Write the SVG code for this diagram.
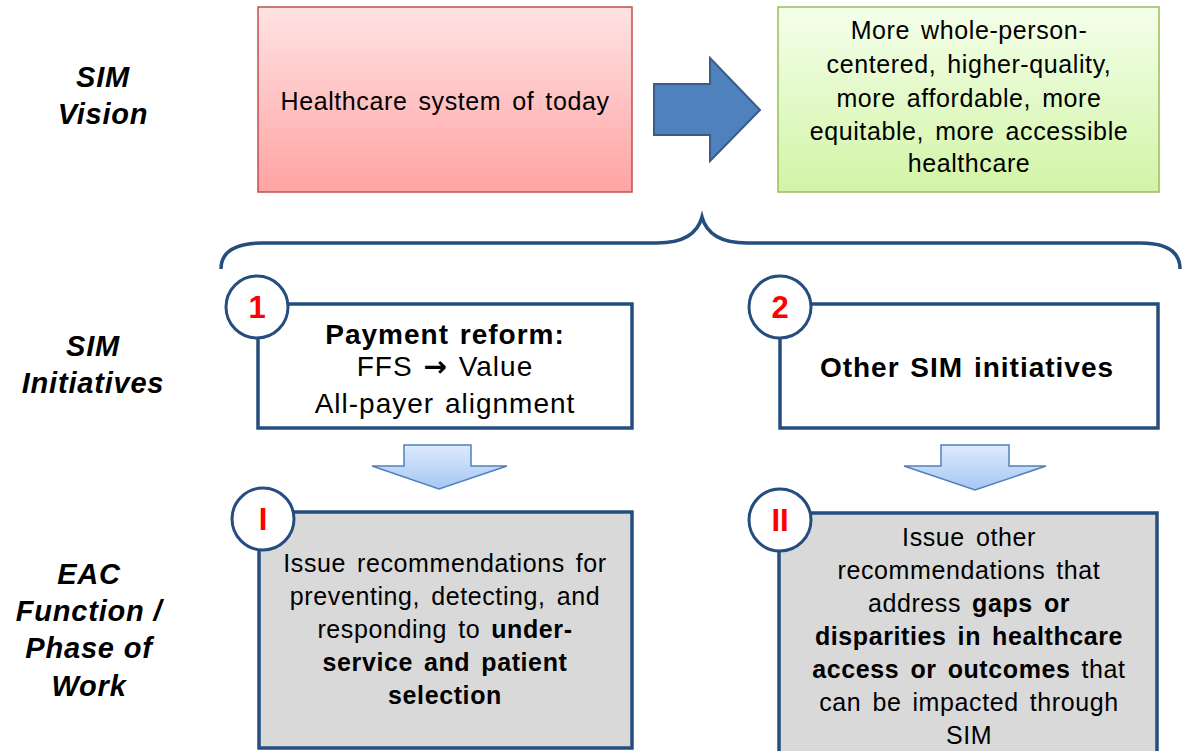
<svg xmlns="http://www.w3.org/2000/svg" width="1182" height="751" viewBox="0 0 1182 751">
<defs>
<linearGradient id="gRed" x1="0" y1="0" x2="0" y2="1"><stop offset="0" stop-color="#FFE3E3"/><stop offset="1" stop-color="#FFA3A3"/></linearGradient>
<linearGradient id="gGreen" x1="0" y1="0" x2="0" y2="1"><stop offset="0" stop-color="#F4FFEA"/><stop offset="1" stop-color="#D2F4A6"/></linearGradient>
<linearGradient id="gDown" x1="0" y1="0" x2="0" y2="1"><stop offset="0" stop-color="#DDEBFC"/><stop offset="1" stop-color="#A6C6F3"/></linearGradient>
<style>
.lbl{font-family:"Liberation Sans",Arial,sans-serif;font-weight:bold;font-style:italic;font-size:29px;fill:#000;text-anchor:middle;letter-spacing:0.8px}
.t{font-family:"Liberation Sans",Arial,sans-serif;font-size:25px;fill:#000;text-anchor:middle;letter-spacing:0.6px;word-spacing:3.5px}
.t28{font-family:"Liberation Sans",Arial,sans-serif;font-size:28px;fill:#000;text-anchor:middle;letter-spacing:1px;word-spacing:2px}
.b{font-weight:bold}
.arr{font-family:"DejaVu Sans",sans-serif;font-weight:bold}
.box{fill:#fff;stroke:#254E7E;stroke-width:3.5}
.gbox{fill:#D9D9D9;stroke:#254E7E;stroke-width:3.5}
.circ{fill:#fff;stroke:#254E7E;stroke-width:3}
.num{font-family:"Liberation Sans",Arial,sans-serif;font-weight:bold;font-size:31px;fill:#FF0000;text-anchor:middle}
.down{fill:url(#gDown);stroke:#4F81BD;stroke-width:1.5;stroke-linejoin:miter}
</style>
</defs>
<rect width="1182" height="751" fill="#fff"/>

<g id="labels">
<text class="lbl" x="103" y="87">SIM</text>
<text class="lbl" x="103" y="124">Vision</text>
<text class="lbl" x="93" y="356">SIM</text>
<text class="lbl" x="93" y="393">Initiatives</text>
<text class="lbl" x="89" y="584">EAC</text>
<text class="lbl" x="89" y="621">Function /</text>
<text class="lbl" x="89" y="658">Phase of</text>
<text class="lbl" x="89" y="696">Work</text>
</g>

<g id="today">
<rect x="258" y="7" width="374" height="185" fill="url(#gRed)" stroke="#C0504D" stroke-width="1.5"/>
<text class="t" x="445" y="110">Healthcare system of today</text>
</g>

<g id="future">
<rect x="778" y="7" width="381" height="185" fill="url(#gGreen)" stroke="#9BBB59" stroke-width="1.5"/>
<text class="t" x="969" y="39">More whole-person-</text>
<text class="t" x="969" y="73">centered, higher-quality,</text>
<text class="t" x="969" y="107">more affordable, more</text>
<text class="t" x="969" y="140">equitable, more accessible</text>
<text class="t" x="969" y="172">healthcare</text>
</g>

<g id="initiative1">
<rect class="box" x="258" y="304" width="374" height="124"/>
<circle class="circ" cx="257" cy="307" r="31"/>
<text class="num" x="257" y="318">1</text>
<text class="t28 b" x="445" y="344">Payment reform:</text>
<text class="t28" x="445" y="376">FFS <tspan class="arr">→</tspan> Value</text>
<text class="t28" x="445" y="413">All-payer alignment</text>
</g>

<g id="initiative2">
<rect class="box" x="780" y="304" width="378" height="124"/>
<circle class="circ" cx="780" cy="307" r="31"/>
<text class="num" x="780" y="318">2</text>
<text class="t28 b" x="967" y="377">Other SIM initiatives</text>
</g>

<g id="phase1">
<rect class="gbox" x="259" y="512" width="373" height="236"/>
<circle class="circ" cx="263" cy="519" r="31"/>
<text class="num" x="263" y="530">I</text>
<text class="t" x="445" y="572">Issue recommendations for</text>
<text class="t" x="445" y="605">preventing, detecting, and</text>
<text class="t" x="445" y="638">responding to <tspan class="b">under-</tspan></text>
<text class="t b" x="445" y="671">service and patient</text>
<text class="t b" x="445" y="704">selection</text>
</g>

<g id="phase2">
<rect class="gbox" x="779" y="513" width="378" height="245"/>
<circle class="circ" cx="780" cy="520" r="31"/>
<text class="num" x="780" y="531">II</text>
<text class="t" x="969" y="546">Issue other</text>
<text class="t" x="969" y="579">recommendations that</text>
<text class="t" x="969" y="612">address <tspan class="b">gaps or</tspan></text>
<text class="t b" x="969" y="645">disparities in healthcare</text>
<text class="t" x="969" y="678"><tspan class="b">access or outcomes</tspan> that</text>
<text class="t" x="969" y="711">can be impacted through</text>
<text class="t" x="969" y="744">SIM</text>
</g>

<g id="connectors">
<path d="M654,84 L710,84 L710,58 L760,110 L710,161 L710,135 L654,135 Z" fill="#4F81BD" stroke="#385D8A" stroke-width="2"/>
<path d="M221,269 Q221,243 263,243 L657,243 Q695,243 702,217 Q709,243 747,243 L1140,243 Q1180,243 1180,269" fill="none" stroke="#254E7E" stroke-width="3.5"/>
<path class="down" d="M404,445 L471,445 L471,466 L507,466 L439,489 L372,466 L404,466 Z"/>
<path class="down" d="M941,445 L1009,445 L1009,466 L1046,466 L975,490 L904,466 L941,466 Z"/>
</g>
</svg>
